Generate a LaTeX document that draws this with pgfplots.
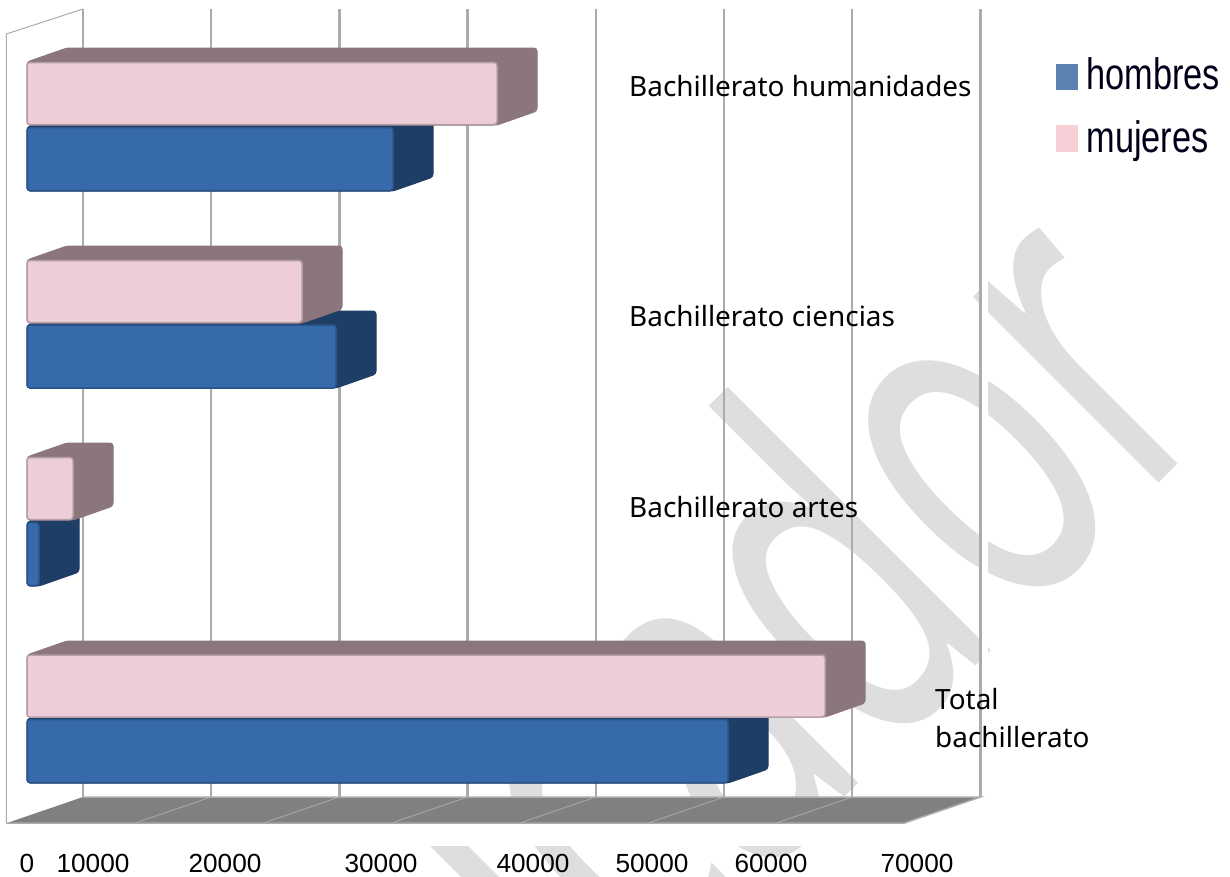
\documentclass[border=0pt]{standalone}
\usepackage{pgfplots}
\pgfplotsset{compat=1.18}
\usepackage{fontspec}
\setmainfont{Noto Sans}
\newfontfamily\tickfont{Liberation Sans}
\newfontfamily\wmfont{Noto Sans}
\definecolor{pinkF}{HTML}{EDCDD8}
\definecolor{pinkS}{HTML}{8B767C}
\definecolor{pinkE}{HTML}{B59FA8}
\definecolor{blueF}{HTML}{366AAB}
\definecolor{blueS}{HTML}{1F3E66}
\definecolor{blueE}{HTML}{2A5488}
\definecolor{gridc}{HTML}{ABABAB}
\definecolor{floorc}{HTML}{808080}
\definecolor{wm}{HTML}{DEDEDE}
\definecolor{legB}{HTML}{5B82B0}
\definecolor{legP}{HTML}{F6D0D6}
\begin{document}
\begin{tikzpicture}[x=1pt,y=1pt]
\path[use as bounding box] (0,0) rectangle (1230pt,877pt);
\begin{axis}[
  at={(0pt,0pt)},anchor=south west,
  scale only axis,width=1230pt,height=877pt,
  xmin=-2106.08,xmax=93837.75,ymin=0,ymax=877,y dir=reverse,
  axis line style={draw=none},major tick length=0pt,
  clip=false,scaled x ticks=false,axis on top,
  ytick=\empty,
  xtick={0,5148,15445,27613,39470,48752,58034,69422},
  xticklabels={0,10000,20000,30000,40000,50000,60000,70000},
  xticklabel style={font=\tickfont\fontsize{26.2}{30}\selectfont,yshift=5pt,text depth=0pt,anchor=base},
  legend style={at={(0.8585,0.934)},anchor=north west,draw=none,fill=none,inner sep=0pt,
    row sep=29pt,font=\tickfont\fontsize{44}{44}\selectfont\color{black!90!blue},
    /tikz/every odd column/.append style={column sep=9pt},
    cells={anchor=west},nodes={inner sep=0pt,outer sep=0pt}},
  legend cell align=left,
]
% watermark
\node[rotate=45,anchor=base east,font=\wmfont\fontsize{490}{490}\selectfont,text=wm,inner sep=0pt]
  at (axis cs:93877,411.5) {\scalebox{0.626}[1]{Educador}};
% white strips
\addplot[fill=white,draw=none,forget plot] coordinates {(-2106,823)(76000,823)(76000,846)(-2106,846)} -- cycle;
\addplot[fill=white,draw=none,forget plot] coordinates {(74368,0)(74950,0)(74950,846)(74368,846)} -- cycle;
% back wall gridlines
\pgfplotsinvokeforeach{4368,14368,24368,34368,44368,54368,64368,74368}{
  \addplot[gridc,line width=2.3pt,forget plot] coordinates {(#1,9)(#1,797)};
}
% left wall
\addplot[gridc,line width=1pt,forget plot] coordinates {(4368,9)(-1615,34)(-1615,823)};
% floor
\addplot[fill=floorc,draw=none,forget plot] coordinates {(-1560,823)(4368,797)(74368,797)(68440,823)} -- cycle;
\addplot[gridc,line width=0.8pt,forget plot] coordinates {(14368,797)(8440,823)};
\addplot[gridc,line width=0.8pt,forget plot] coordinates {(24368,797)(18440,823)};
\addplot[gridc,line width=0.8pt,forget plot] coordinates {(34368,797)(28440,823)};
\addplot[gridc,line width=0.8pt,forget plot] coordinates {(44368,797)(38440,823)};
\addplot[gridc,line width=0.8pt,forget plot] coordinates {(54368,797)(48440,823)};
\addplot[gridc,line width=0.8pt,forget plot] coordinates {(64368,797)(58440,823)};
\addplot[gridc,line width=1.5pt,forget plot] coordinates {(-1615,823)(68440,823)(74368,797)(4368,797)};
% top and side faces
\pgfplotsset{face/.style={line width=1pt,line join=round,rounded corners=3pt,forget plot}}
\addplot[fill=blueS,draw=blueS,face] coordinates {(0,127)(3120,113)(31669,113)(31669,177)(28549,191)(0,191)} -- cycle;
\addplot[fill=pinkS,draw=pinkS,face] coordinates {(0,62)(3120,48)(39781,48)(39781,111)(36661,125)(0,125)} -- cycle;
\addplot[fill=blueS,draw=blueS,face] coordinates {(0,325)(3120,311)(27223,311)(27223,374)(24103,388)(0,388)} -- cycle;
\addplot[fill=pinkS,draw=pinkS,face] coordinates {(0,260)(3120,246)(24571,246)(24571,309)(21451,323)(0,323)} -- cycle;
\addplot[fill=blueS,draw=blueS,face] coordinates {(0,522)(3120,508)(4056,508)(4056,572)(936,586)(0,586)} -- cycle;
\addplot[fill=pinkS,draw=pinkS,face] coordinates {(0,457)(3120,443)(6708,443)(6708,506)(3588,520)(0,520)} -- cycle;
\addplot[fill=blueS,draw=blueS,face] coordinates {(0,719)(3120,705)(57800,705)(57800,769)(54680,783)(0,783)} -- cycle;
\addplot[fill=pinkS,draw=pinkS,face] coordinates {(0,655)(3120,641)(65366,641)(65366,703)(62246,717)(0,717)} -- cycle;
% front faces
\addplot[xbar,bar width=62pt,bar shift=0pt,fill=pinkF,draw=pinkE,line width=1.5pt,rounded corners=3pt,forget plot]
  coordinates {(36661,93.5)(21451,291.5)(3588,488.5)(62246,686)};
\addplot[xbar,bar width=63pt,bar shift=0pt,fill=blueF,draw=blueE,line width=1.5pt,rounded corners=3pt,forget plot]
  coordinates {(28549,159)(24103,356.5)(936,554)(54680,751)};
% category labels
\node[anchor=west,inner sep=0pt,font=\fontsize{27.9}{38}\selectfont] at (axis cs:46958,86) {Bachillerato humanidades};
\node[anchor=west,inner sep=0pt,font=\fontsize{27.9}{38}\selectfont] at (axis cs:46958,316) {Bachillerato ciencias};
\node[anchor=west,inner sep=0pt,font=\fontsize{27.9}{38}\selectfont] at (axis cs:46958,507) {Bachillerato artes};
\node[anchor=west,inner sep=0pt,align=left,font=\fontsize{27.9}{38}\selectfont] at (axis cs:70827,718) {Total\\bachillerato};
% legend
\addlegendimage{legend image code/.code={\fill[legB] (0pt,-14pt) rectangle (21pt,11pt);}}
\addlegendentry{\scalebox{0.78}[1]{hombres}}
\addlegendimage{legend image code/.code={\fill[legP] (0pt,-14pt) rectangle (21pt,12pt);}}
\addlegendentry{\scalebox{0.78}[1]{mujeres}}
\end{axis}
\end{tikzpicture}
\end{document}
